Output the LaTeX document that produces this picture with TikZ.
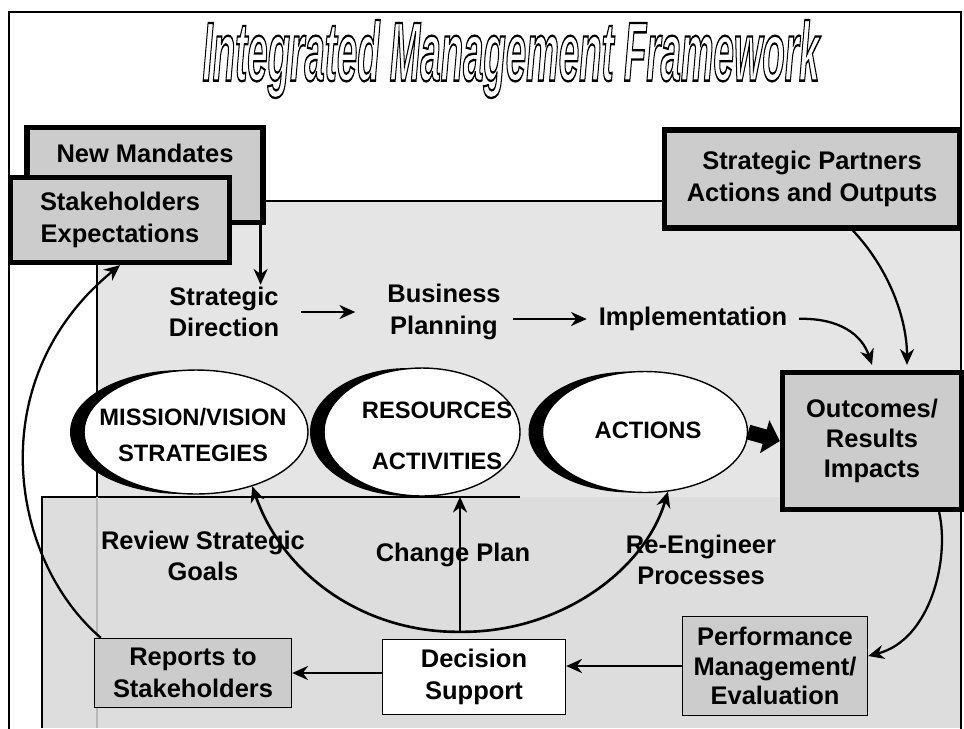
\documentclass[tikz,border=0pt]{standalone}
\usepackage{fontspec}
\setmainfont{Liberation Sans}
\usetikzlibrary{positioning,shapes.geometric,shadows,arrows.meta}
% outlined (stroked) text for the title
\newcommand\outlinetext[1]{\special{pdf:literal direct 1 Tr 1.1 w}#1\special{pdf:literal direct 0 Tr}}
\tikzset{
  lbl/.style={font=\fontsize{14.5}{18}\selectfont\bfseries, align=center, inner sep=1pt},
  ovaltext/.style={font=\fontsize{13.5}{20}\selectfont\bfseries, align=center, inner sep=1pt},
  outbox/.style={draw, line width=3pt, fill=gray!40},
  inbox/.style={draw, line width=0.8pt, fill=gray!40},
  oval/.style={ellipse, draw, line width=0.8pt, fill=white, inner sep=0pt,
    general shadow={fill=black, shadow xshift=-0.28cm}},
  arr/.style={line width=1.3pt, -{Stealth[length=9pt,width=8pt]}},
  dblarr/.style={line width=1.5pt, {Stealth[length=9pt,width=8pt]}-{Stealth[length=9pt,width=8pt]}},
}
\begin{document}
\begin{tikzpicture}[x=0.02cm, y=-0.02cm]
  \useasboundingbox (0,0) rectangle (964,728);
  % background panels
  \fill[gray!20] (97,201) rectangle (961,728);
  \fill[gray!27] (42,497) rectangle (961,728);
  \draw[line width=0.8pt] (97,497) -- (97,201) -- (961,201);
  \draw[line width=0.8pt] (42,728) -- (42,497) -- (520,497);
  \draw[gray!55, line width=0.7pt] (97,497) -- (97,728);
  \draw[line width=0.8pt] (9,735) -- (9,12) -- (961,12) -- (961,735);

  % title
  \node (title) at (511,59) {\resizebox*{12.34cm}{1.56cm}{\fontsize{40}{40}\selectfont\bfseries\itshape\outlinetext{Integrated Management Framework}}};

  % inputs
  \node[outbox, minimum width=4.72cm, minimum height=1.9cm] (mandates) at (145,175) {};
  \node[lbl] (mandtxt) at (145,153) {New Mandates};
  \node[outbox, minimum width=4.38cm, minimum height=1.7cm, lbl] (stake) at (120,220) {Stakeholders\\Expectations};
  \node[outbox, minimum width=5.9cm, minimum height=1.96cm, lbl] (partners) at (812,179) {Strategic Partners\\Actions and Outputs};
  \node[outbox, minimum width=3.58cm, minimum height=2.74cm, lbl, font=\fontsize{14.5}{17}\selectfont\bfseries] (outcomes) at (872,441) {Outcomes/\\Results\\Impacts};

  % planning cycle
  \node[lbl] (sd) at (224,312) {Strategic\\Direction};
  \node[lbl] (bp) at (444,312) {Business\\Planning};
  \node[lbl] (impl) at (693,319) {Implementation};

  \node[oval, minimum width=4.48cm, minimum height=2.48cm] (mission) at (196,432) {};
  \node[oval, minimum width=3.92cm, minimum height=2.56cm] (resources) at (422,432) {};
  \node[oval, minimum width=4.1cm, minimum height=2.42cm] (actions) at (645,432) {};
  \node[ovaltext] (missiontxt) at (193,435) {MISSION/VISION\\STRATEGIES};
  \node[ovaltext, font=\fontsize{13.5}{29}\selectfont\bfseries] (restxt) at (437,436) {RESOURCES\\ACTIVITIES};
  \node[ovaltext] (actionstxt) at (648,430) {ACTIONS};

  % feedback
  \node[lbl] (review) at (203,556) {Review Strategic\\Goals};
  \node[lbl] (change) at (453,555) {Change Plan};
  \node[lbl] (reeng) at (701,560) {Re-Engineer\\Processes};
  \node[inbox, minimum width=3.7cm, minimum height=1.98cm, lbl, font=\fontsize{14.5}{17}\selectfont\bfseries] (perf) at (775,666) {Performance\\Management/\\Evaluation};
  \node[draw, line width=0.8pt, fill=white, minimum width=3.66cm, minimum height=1.5cm, lbl] (decision) at (474,677) {Decision\\Support};
  \node[inbox, minimum width=3.94cm, minimum height=1.38cm, lbl] (reports) at (193,673) {Reports to\\Stakeholders};
  \coordinate (hub) at ([xshift=-0.28cm,yshift=0.14cm]decision.north);

  % connectors
  \draw[arr] ([xshift=-0.1cm]mandates.south east) -- ([xshift=-0.1cm]mandates.south east |- sd.north);
  \draw[arr, shorten <=0.4cm, shorten >=0.6cm] (sd.east) -- (sd.east -| bp.west);
  \draw[arr, shorten <=0.2cm, shorten >=0.2cm] (bp.east |- impl) -- (impl.west);
  \draw[arr, shorten <=0.2cm] (impl.east) .. controls (840,318) and (862,335) .. ([yshift=0.1cm]outcomes.north);
  \draw[arr] ([xshift=0.82cm]partners.south) .. controls (890,270) and (907,320) .. ([xshift=0.7cm,yshift=0.1cm]outcomes.north);
  \draw[line width=8.5pt, -{Triangle[length=9pt,width=19pt]}] (actions.east) -- (outcomes.west);

  \draw[dblarr] (mission.-44) .. controls (285,580) and (370,633) .. (hub)
    .. controls (560,633) and (645,570) .. (actions.-69);
  \draw[arr] (hub) -- (hub |- resources.south);
  \draw[arr] ([xshift=-0.5cm]outcomes.south east) .. controls (950,560) and (930,640) .. ([yshift=0.2cm]perf.east);
  \draw[arr] (perf.west) -- (perf.west -| decision.east);
  \draw[arr] (decision.west |- reports.east) -- (reports.east);
  \draw[arr] ([xshift=0.14cm]reports.north west) .. controls (10,560) and (-20,380) .. (stake.south);
\end{tikzpicture}
\end{document}
